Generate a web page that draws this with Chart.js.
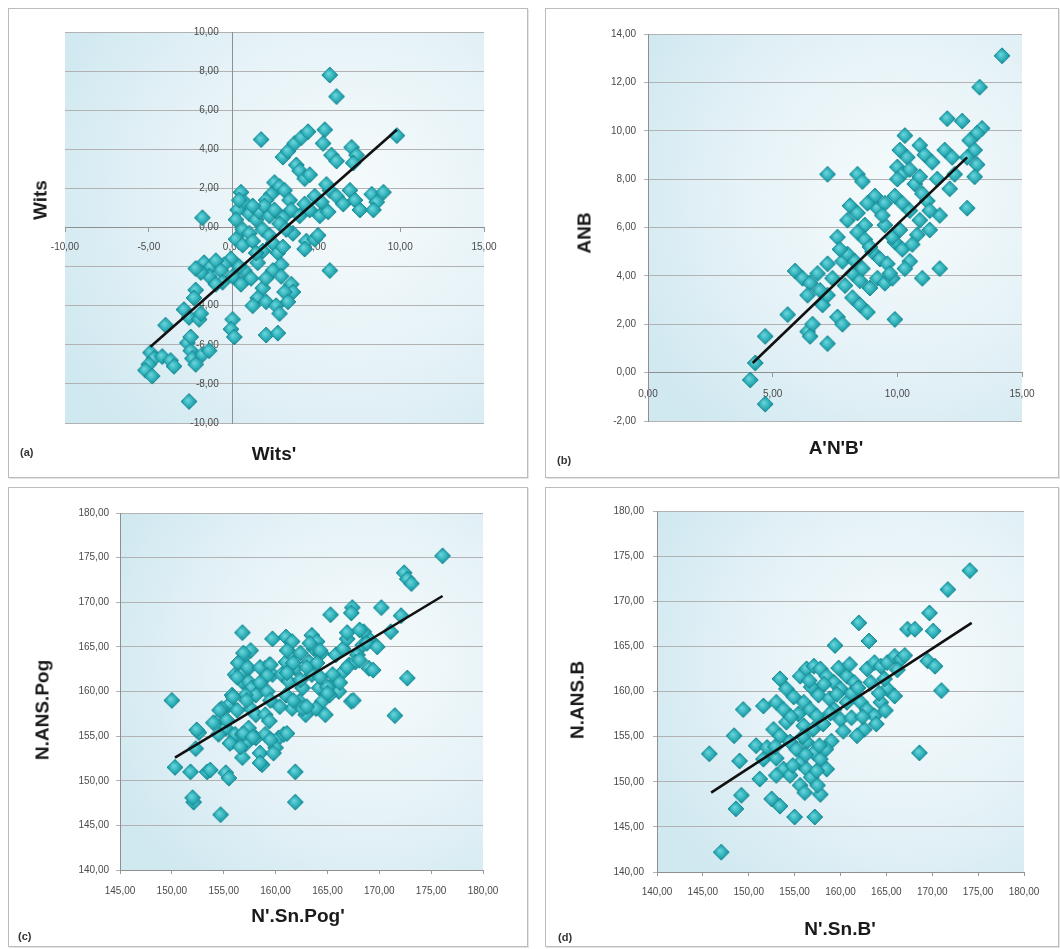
<!DOCTYPE html>
<html><head><meta charset="utf-8">
<script src="https://cdn.jsdelivr.net/npm/chart.js@4.4.1/dist/chart.umd.min.js"></script>
<style>
html,body{margin:0;padding:0;background:#fff;}
#page{position:relative;width:1060px;height:949px;overflow:hidden;background:#fff;font-family:"Liberation Sans",Arial,sans-serif;}
.panel{position:absolute;box-sizing:border-box;border:1px solid #bcbcbc;box-shadow:1px 1px 0 #e4e4e4;}
canvas{position:absolute;}
.t{position:absolute;white-space:nowrap;font-weight:bold;font-size:19px;color:#1a1a1a;transform:translate(-50%,-50%);line-height:1;}
.r{transform:translate(-50%,-50%) rotate(-90deg);}
.lab{position:absolute;font-size:11px;font-weight:bold;color:#333;transform:translateY(-50%);line-height:1;}
</style></head><body><div id="page">
<div class="panel" style="left:8px;top:8px;width:520px;height:470px"></div>
<div class="panel" style="left:545px;top:8px;width:514px;height:470px"></div>
<div class="panel" style="left:8px;top:487px;width:520px;height:460px"></div>
<div class="panel" style="left:545px;top:487px;width:514px;height:460px"></div>
<canvas id="cA" width="520" height="470" style="left:8px;top:8px"></canvas>
<canvas id="cB" width="514" height="470" style="left:545px;top:8px"></canvas>
<canvas id="cC" width="520" height="460" style="left:8px;top:487px"></canvas>
<canvas id="cD" width="514" height="460" style="left:545px;top:487px"></canvas>
<div class="t r" style="left:40px;top:200px">Wits</div>
<div class="t" style="left:274px;top:453px">Wits'</div>
<div class="lab" style="left:20px;top:452px">(a)</div>
<div class="t r" style="left:584px;top:233px">ANB</div>
<div class="t" style="left:836px;top:447px">A'N'B'</div>
<div class="lab" style="left:557px;top:460px">(b)</div>
<div class="t r" style="left:42px;top:710px">N.ANS.Pog</div>
<div class="t" style="left:298px;top:915px">N'.Sn.Pog'</div>
<div class="lab" style="left:18px;top:936px">(c)</div>
<div class="t r" style="left:577px;top:700px">N.ANS.B</div>
<div class="t" style="left:840px;top:928px">N'.Sn.B'</div>
<div class="lab" style="left:558px;top:937px">(d)</div>
</div>
<script>
// ---- tick values ----
const ticksAX = [-10, -5, 0, 5, 10, 15];
const ticksAY = [-10, -8, -6, -4, -2, 0, 2, 4, 6, 8, 10];
const ticksBX = [0, 5, 10, 15];
const ticksBY = [-2, 0, 2, 4, 6, 8, 10, 12, 14];
const ticksCX = [145, 150, 155, 160, 165, 170, 175, 180];
const ticksCY = [140, 145, 150, 155, 160, 165, 170, 175, 180];
const ticksDX = [140, 145, 150, 155, 160, 165, 170, 175, 180];
const ticksDY = [140, 145, 150, 155, 160, 165, 170, 175, 180];

// ---- (a) Wits' (x) vs Wits (y) ----
const pointsA = [
[5.8,7.8],[6.2,6.7],[1.7,4.5],[9.8,4.7],[5.5,5.0],[5.4,4.3],[5.9,3.7],[6.2,3.4],
[3.0,3.6],[3.3,3.9],[3.7,4.3],[4.1,4.6],[4.5,4.9],
[7.1,4.1],[7.4,3.7],[7.2,3.3],
[3.8,3.2],[4.0,2.9],[4.3,2.5],[4.6,2.7],
[2.5,2.3],[2.8,2.1],[3.1,1.9],[2.3,1.7],[2.0,1.4],[3.4,1.4],[4.9,1.6],[5.3,1.3],[5.8,1.9],[6.2,1.6],[7.0,1.9],[7.3,1.4],[8.3,1.7],[9.0,1.8],[8.6,1.3],[7.6,0.9],[8.4,0.9],[6.6,1.2],[5.6,2.2],
[0.5,1.8],[0.7,1.3],[0.3,0.9],[1.0,0.7],[1.4,0.4],[0.2,0.4],[0.6,-0.1],[1.0,-0.3],[1.6,0.8],[1.9,1.1],[2.2,0.6],[1.8,-0.1],[0.4,1.4],[1.2,1.1],
[2.5,0.9],[3.0,0.5],[3.5,0.9],[4.0,0.6],[4.6,0.9],[5.2,0.6],[5.7,0.8],[4.3,1.2],[2.8,0.2],[3.6,-0.3],[4.4,-0.7],[4.9,-0.6],[5.1,-0.4],[4.3,-1.1],[3.2,-0.1],[2.2,-0.4],
[-1.8,0.5],
[0.2,-0.6],[0.6,-0.9],[1.2,-0.7],[1.8,-1.2],[2.4,-0.8],[2.7,-1.3],[3.0,-1.0],[2.9,-1.9],[2.4,-2.2],[2.9,-2.5],[3.5,-2.9],[3.6,-3.3],[3.1,-3.3],[1.8,-3.1],[1.5,-3.6],[1.2,-4.0],[2.0,-3.8],[2.6,-4.0],[2.8,-4.4],[3.3,-3.8],[0.7,-2.2],[1.1,-2.6],[0.4,-2.0],[-0.1,-1.6],[-0.5,-1.9],[0.0,-2.5],[0.5,-2.9],[1.5,-1.8],[2.0,-2.6],[1.4,-1.3],
[-1.7,-1.8],[-1.3,-2.0],[-1.0,-1.7],[-0.7,-2.2],[-1.4,-2.5],[-1.9,-2.3],[-2.2,-2.1],[-0.6,-2.8],[-1.0,-2.9],
[-2.2,-3.2],[-2.3,-3.6],[-2.9,-4.2],[-2.6,-4.6],[-2.0,-4.7],[-1.9,-4.4],
[-4.0,-5.0],[-4.9,-6.4],[-4.7,-6.7],[-4.2,-6.6],[-3.7,-6.8],[-5.0,-7.0],[-5.2,-7.3],[-4.8,-7.6],[-3.5,-7.1],
[-2.7,-5.9],[-2.5,-6.3],[-2.4,-6.7],[-2.2,-7.0],[-1.8,-6.5],[-1.4,-6.3],[-2.5,-5.6],
[-2.6,-8.9],
[0.0,-4.7],[-0.1,-5.2],[0.1,-5.6],
[2.0,-5.5],[2.7,-5.4],
[5.8,-2.2]
];
const trendA = [[-4.9,-6.1],[9.8,5.0]];

// ---- (b) A'N'B' (x) vs ANB (y) ----
const pointsB = [
[14.2,13.1],[13.3,11.8],[12.0,10.5],[12.6,10.4],[13.4,10.1],[13.2,9.9],[10.3,9.8],[7.2,8.2],[8.4,8.2],[8.6,7.9],
[10.9,9.4],[11.1,9.0],[11.4,8.7],[11.9,9.2],[12.2,8.9],[12.9,9.6],[13.1,9.2],[12.8,8.9],[13.2,8.6],[12.3,8.2],[13.1,8.1],[12.8,6.8],
[10.1,9.2],[10.4,8.9],[10.0,8.5],[10.2,8.2],[10.5,8.4],[11.7,6.5],[11.7,4.3],[11.0,3.9],[9.9,2.2],
[11.2,7.1],[11.3,6.7],[10.9,6.3],[10.8,5.7],[7.6,5.6],[7.8,4.6],[5.9,4.2],[6.2,3.9],[6.5,3.7],[5.6,2.4],[4.7,1.5],[4.1,-0.3],[4.3,0.4],[4.7,-1.3],
[6.4,1.7],[6.6,2.0],[6.5,1.5],[7.2,1.2],[7.6,2.3],[7.8,2.0],[7.0,2.8],[7.2,3.2],[7.2,4.5],[8.2,3.1],[8.5,2.8],[8.8,2.5],
[9.2,3.9],[9.5,3.7],[9.8,3.9],[9.0,5.0],[9.3,4.7],[9.6,4.5],[9.9,5.4],[10.2,5.1],[10.5,4.6],[9.5,6.1],[9.8,5.6],[10.1,5.9],[9.2,6.8],[9.5,7.0],[9.4,6.5],
[8.1,6.9],[8.4,6.6],[8.7,6.1],[8.4,5.8],[8.7,5.5],[8.9,5.2],[8.0,4.9],[8.3,4.6],[9.9,7.3],[10.2,7.0],[10.5,6.7],[10.0,8.0],[10.7,7.8],[11.0,7.4],
[8.2,4.1],[8.5,3.8],[8.9,3.5],[8.6,4.3],[7.9,3.6],[7.4,3.9],[6.9,3.4],[6.4,3.2],[6.8,4.1],[9.1,7.3],[8.8,7.0],[8.0,6.3],[7.7,5.1],[9.7,4.1],[10.3,4.3],[10.6,5.3],[11.3,5.9],[10.9,8.1],[11.6,8.0],[12.1,7.6]
];
const trendB = [[4.2,0.4],[12.8,8.9]];

// ---- (c) N'.Sn.Pog' (x) vs N.ANS.Pog (y) ----
const pointsC = [
[176.1,175.2],[172.4,173.3],[172.7,172.6],[173.1,172.1],[170.2,169.4],[167.4,169.4],[167.3,168.8],[165.3,168.6],[156.8,166.6],[159.7,165.9],[161.0,166.1],[161.6,165.6],[163.5,166.3],[164.0,165.6],[163.7,164.8],[164.4,164.3],[172.1,168.5],[171.1,166.7],[172.7,161.5],[171.5,157.3],[167.3,158.9],[150.0,159.0],[150.3,151.5],[151.8,151.0],[153.4,151.0],[155.2,150.9],[155.5,150.3],[152.1,147.6],[154.7,146.2],[161.9,151.0],[161.9,147.6],[158.7,151.8],[156.8,152.6],[152.6,155.4],[152.3,153.6],
[155.5,158.5],[154.8,158.1],[154.7,157.0],[155.2,155.9],[154.5,155.2],[155.8,154.4],[156.1,155.2],
[155.8,159.6],[156.1,161.9],[156.8,161.1],[156.5,163.3],[157.1,164.1],[157.6,164.6],[156.8,162.2],[157.4,162.6],
[157.4,161.1],[157.7,160.4],[158.1,159.6],[157.1,159.6],[157.6,158.1],[158.1,157.4],[157.4,155.9],[156.8,155.2],[158.1,154.8],[157.1,154.1],
[159.0,162.6],[159.4,163.0],[159.7,161.9],[159.2,160.0],[159.0,157.4],[159.4,156.7],[159.0,155.2],[159.7,154.4],[160.3,154.8],[160.0,153.7],
[160.6,161.9],[161.3,161.1],[161.0,159.6],[161.6,158.1],[162.3,158.9],[162.6,160.4],[161.9,162.6],[161.0,163.3],[161.6,164.1],[160.8,155.2],
[163.2,163.3],[163.5,161.9],[164.2,160.4],[164.5,158.9],[163.9,158.1],[162.9,157.4],[164.8,157.4],[162.6,158.1],
[165.8,161.1],[166.1,160.0],[165.2,159.6],[166.5,162.2],[167.1,163.0],[165.8,164.1],[166.5,164.8],[165.5,161.9],
[167.9,164.1],[169.0,165.9],[168.5,166.7],[168.4,165.2],[169.0,162.6],[167.7,163.3],[166.9,165.9],
[156.9,164.3],[156.4,163.2],[157.3,162.7],[156.3,161.6],[158.5,162.7],[159.5,163.0],[159.2,161.8],[158.5,161.0],
[161.1,164.6],[162.4,164.3],[163.3,165.4],[164.3,164.6],[164.0,163.2],[163.0,162.7],[161.7,163.2],[161.1,162.1],[162.4,161.3],[164.3,161.6],[165.0,160.5],
[166.9,166.6],[168.1,166.9],[168.8,165.4],[169.8,165.0],[168.1,163.5],[169.4,162.4],[166.9,162.7],[166.2,161.0],[167.5,159.0],
[155.9,159.4],[154.6,157.9],[156.3,157.9],[157.2,159.0],[159.5,159.0],[160.4,158.3],[161.7,159.0],[163.0,158.3],[165.0,159.8],
[152.4,155.7],[154.0,156.5],[155.3,156.8],[155.6,154.2],[156.9,155.3],[156.6,153.8],[157.8,154.9],[159.5,154.6],[158.5,153.1],[159.8,153.1],[161.1,155.3],
[153.7,151.2],[158.5,152.0],[152.0,148.1]
];
const trendC = [[150.3,152.6],[176.1,170.7]];

// ---- (d) N'.Sn.B' (x) vs N.ANS.B (y) ----
const pointsD = [
[174.1,173.4],[171.7,171.3],[169.7,168.7],[170.1,166.7],[167.3,166.9],[168.1,166.9],[162.0,167.6],[163.1,165.6],[159.4,165.1],[169.5,163.4],[170.3,162.8],[171.0,160.1],[168.6,153.2],[145.7,153.1],[147.0,142.2],[149.4,158.0],[148.4,155.1],[149.0,152.3],[149.2,148.5],[148.6,147.0],[151.6,158.4],
[150.8,154.0],[151.6,152.5],[151.2,150.3],[152.5,148.1],[153.4,147.3],[155.0,146.1],[157.2,146.1],[157.8,148.6],[155.6,149.6],[156.1,148.8],
[153.4,161.4],[154.1,160.3],[153.0,158.8],[153.8,158.0],[152.7,155.8],[153.4,155.1],[154.1,156.6],[154.5,154.4],[153.8,151.4],[154.5,150.7],[153.0,150.7],
[155.6,161.7],[156.3,162.5],[157.1,162.8],[157.8,162.5],[156.0,158.8],[156.7,158.0],[157.4,157.3],[156.3,154.4],[157.1,153.2],[157.8,152.5],[158.5,151.4],[155.2,153.6],[155.6,152.1],[156.3,151.4],
[158.5,161.7],[159.3,161.0],[160.0,160.3],[160.7,161.7],[161.5,161.0],[159.3,158.0],[160.0,156.9],[160.7,158.8],[162.2,158.8],[162.9,158.0],[163.7,157.3],[164.4,158.8],[162.6,155.8],[161.8,155.1],
[162.9,162.5],[163.7,163.2],[164.4,162.8],[165.1,163.2],[165.9,163.9],[166.6,163.6],[165.1,160.3],[165.9,159.5],[164.8,161.4],
[156.8,160.5],[157.6,159.6],[158.2,160.8],[158.8,159.2],[155.4,157.5],[156.0,156.2],[157.0,155.8],[158.1,156.4],[159.0,154.5],[158.4,153.6],[154.9,159.4],[156.6,161.2],[159.8,162.6],[161.0,163.0],[161.2,159.8],[163.3,161.0],[164.2,159.8],[160.3,155.6],[161.2,157.1],[166.2,162.4],[167.0,164.0],[152.0,153.8],[153.0,152.6],[154.8,151.8],[156.8,150.5],[157.5,149.6],
[154.6,157.2],[155.9,155.0],[157.7,154.0],[158.9,157.6],[159.6,159.7],[161.9,160.4],[162.4,157.2],[163.9,156.4],[164.9,157.9],[152.9,153.9],[156.2,153.0],[157.4,151.2]
];
const trendD = [[145.9,148.8],[174.3,167.6]];

// ---- helpers ----
function fmt(v) { return Number(v).toFixed(2).replace('.', ','); }

const bgPlugin = {
  id: 'plotBg',
  beforeDraw(chart) {
    const {ctx, chartArea: a} = chart;
    if (!a) return;
    const w = a.right - a.left, h = a.bottom - a.top;
    if (!(w > 0 && h > 0)) return;
    const cx = a.left + w * 0.68, cy = a.top + h * 0.42;
    const g = ctx.createRadialGradient(cx, cy, 0, cx, cy, Math.max(w, h) * 0.78);
    g.addColorStop(0, '#f6fbfc');
    g.addColorStop(0.55, '#e5f2f7');
    g.addColorStop(1, '#d0e8f0');
    ctx.save();
    ctx.fillStyle = g;
    ctx.fillRect(a.left, a.top, w, h);
    ctx.restore();
  }
};

// diamond marker sprite (shaded like the original Excel marker)
function makeMarker(r) {
  const s = Math.ceil(2 * r + 2);
  const cv = document.createElement('canvas');
  cv.width = s; cv.height = s;
  const c = cv.getContext('2d');
  const m = s / 2;
  const g = c.createRadialGradient(m - 1.5, m - 1.5, 0.5, m, m, r);
  g.addColorStop(0, '#6ad4da');
  g.addColorStop(0.55, '#2fb1ba');
  g.addColorStop(1, '#178a94');
  c.beginPath();
  c.moveTo(m, m - r); c.lineTo(m + r, m); c.lineTo(m, m + r); c.lineTo(m - r, m); c.closePath();
  c.fillStyle = g; c.fill();
  c.lineWidth = 1; c.strokeStyle = '#1b8c96'; c.stroke();
  return cv;
}
const marker = makeMarker(8);

const tickFont = {family: '"Liberation Sans", Arial, sans-serif', size: 10};

function makeChart(id, pts, trend, o) {
  const toXY = arr => arr.map(p => ({x: p[0], y: p[1]}));
  return new Chart(document.getElementById(id), {
    type: 'scatter',
    data: {
      datasets: [
        {data: toXY(trend), showLine: true, borderColor: '#111111', borderWidth: 2.6,
         pointRadius: 0, pointHoverRadius: 0, fill: false, order: 0},
        {data: toXY(pts), pointStyle: marker, pointRadius: 8, pointHoverRadius: 8,
         backgroundColor: '#2fb1ba', borderColor: '#1b8c96', borderWidth: 1, order: 1}
      ]
    },
    options: {
      responsive: false, animation: false, events: [],
      layout: {padding: o.pad},
      plugins: {legend: {display: false}, tooltip: {enabled: false}},
      scales: {
        x: {
          type: 'linear', position: o.xPos,
          min: o.xT[0], max: o.xT[o.xT.length - 1],
          afterBuildTicks: s => { s.ticks = o.xT.map(v => ({value: v})); },
          afterFit: s => { if (o.xH) s.height = o.xH; },
          grid: {drawOnChartArea: false, drawTicks: true, tickLength: 4, color: '#9a9a9a'},
          border: {display: true, color: '#8f8f8f', width: 1},
          ticks: {padding: o.xPad, color: '#4a4a4a', font: tickFont, maxRotation: 0, autoSkip: false,
                  callback: v => fmt(v)}
        },
        y: {
          type: 'linear', position: o.yPos,
          min: o.yT[0], max: o.yT[o.yT.length - 1],
          afterBuildTicks: s => { s.ticks = o.yT.map(v => ({value: v})); },
          afterFit: s => { if (o.yW) s.width = o.yW; },
          grid: {drawOnChartArea: true, drawTicks: true, tickLength: 4, color: '#b2b2b2'},
          border: {display: true, color: '#8f8f8f', width: 1},
          ticks: {padding: o.yPad, color: '#4a4a4a', font: tickFont, autoSkip: false,
                  callback: v => fmt(v) + (o.ySuffix || '')}
        }
      }
    },
    plugins: [bgPlugin]
  });
}

makeChart('cA', pointsA, trendA, {
  xT: ticksAX, yT: ticksAY, xPos: {y: 0}, yPos: {x: 0},
  pad: {left: 57, right: 44, top: 24, bottom: 55}, xPad: 10, yPad: 8, ySuffix: '     '
});
makeChart('cB', pointsB, trendB, {
  xT: ticksBX, yT: ticksBY, xPos: {y: 0}, yPos: 'left', yW: 103,
  pad: {left: 0, right: 37, top: 26, bottom: 57}, xPad: 12, yPad: 8
});
makeChart('cC', pointsC, trendC, {
  xT: ticksCX, yT: ticksCY, xPos: 'bottom', yPos: 'left', yW: 112, xH: 77,
  pad: {left: 0, right: 45, top: 26, bottom: 0}, xPad: 11, yPad: 7
});
makeChart('cD', pointsD, trendD, {
  xT: ticksDX, yT: ticksDY, xPos: 'bottom', yPos: 'left', yW: 112, xH: 75,
  pad: {left: 0, right: 35, top: 24, bottom: 0}, xPad: 10, yPad: 9
});
</script>
</body></html>
